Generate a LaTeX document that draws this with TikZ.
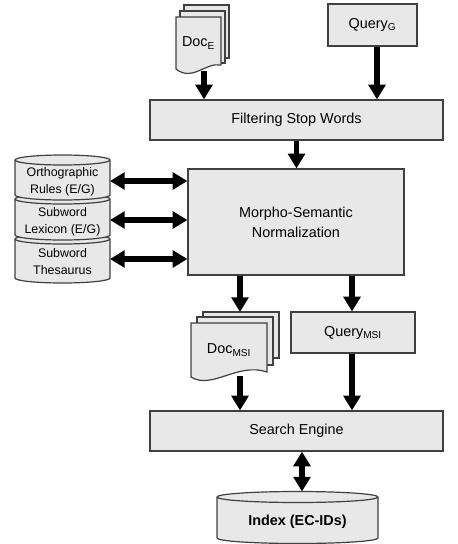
\documentclass[tikz,border=0pt]{standalone}
\usepackage{fontspec}
\setmainfont{Liberation Sans}
\usetikzlibrary{arrows.meta}
\begin{document}
\begin{tikzpicture}[x=0.75pt,y=-0.75pt,
  box/.style={draw=black!75, fill=black!9, line width=0.9pt, inner sep=0pt,
    font=\fontsize{10.8}{15}\selectfont, align=center},
  shp/.style={draw=black!75, fill=black!9, line width=0.9pt},
  lbl/.style={inner sep=0pt, font=\fontsize{10.8}{15}\selectfont, align=center},
  dblbl/.style={inner sep=0pt, font=\fontsize{9.3}{12.75}\selectfont, align=center,
    minimum width=71.25pt},
  arr/.style={line width=4pt, -{Triangle[width=12.5pt,length=11pt]}},
  darr/.style={line width=4pt, {Triangle[width=12.5pt,length=11pt]}-{Triangle[width=12.5pt,length=11pt]}}]
\useasboundingbox (0,0) rectangle (458,544);

% ---- Doc_E stack
\draw[shp] (184,5) rectangle (229,58);
\draw[shp] (180,11) rectangle (225,63);
\draw[shp] (176,17) -- (176,69) .. controls (192,82) and (206,62) .. (221,65) -- (221,17) -- cycle;
\node[lbl] (docE) at (198.5,43) {Doc\textsubscript{E}};
\coordinate (docEout) at (204,71);

% ---- Query_G
\node[box, minimum width=66.75pt, minimum height=31.5pt] (queryG) at (372.5,25) {Query\textsubscript{G}};

% ---- Filtering
\node[box, minimum width=219.75pt, minimum height=30pt] (filter) at (296.5,120) {Filtering Stop Words};

% ---- Morpho
\node[box, minimum width=162pt, minimum height=79.5pt] (morpho) at (296,222) {Morpho-Semantic\\Normalization};

% ---- database stack (drawn bottom to top)
\draw[shp] (15,239) -- (15,278) arc[start angle=180,end angle=0,x radius=47.5,y radius=5]
  -- (110,239) arc[start angle=0,end angle=-180,x radius=47.5,y radius=5] -- cycle;
\draw[draw=black!75, line width=0.9pt] (15,239) arc[start angle=180,end angle=0,x radius=47.5,y radius=5];
\draw[shp] (15,199) -- (15,235) arc[start angle=180,end angle=0,x radius=47.5,y radius=5]
  -- (110,199) arc[start angle=0,end angle=-180,x radius=47.5,y radius=5] -- cycle;
\draw[draw=black!75, line width=0.9pt] (15,199) arc[start angle=180,end angle=0,x radius=47.5,y radius=5];
\draw[shp] (15,160) -- (15,195) arc[start angle=180,end angle=0,x radius=47.5,y radius=5]
  -- (110,160) arc[start angle=0,end angle=-180,x radius=47.5,y radius=5] -- cycle;
\draw[draw=black!75, line width=0.9pt] (15,160) arc[start angle=180,end angle=0,x radius=47.5,y radius=5];
\node[dblbl] (ortho) at (62.5,182) {Orthographic\\Rules (E/G)};
\node[dblbl] (lexicon) at (62.5,222) {Subword\\Lexicon (E/G)};
\node[dblbl] (thes) at (62.5,262) {Subword\\Thesaurus};
\coordinate (o1) at (110,181);
\coordinate (o2) at (110,220);
\coordinate (o3) at (110,259);

% ---- Doc_MSI stack
\draw[shp] (203,312) rectangle (279,358);
\draw[shp] (197,317) rectangle (273,365);
\draw[shp] (191,323) -- (191,377) .. controls (212,390) and (238,362) .. (267,372) -- (267,323) -- cycle;
\node[lbl] (docM) at (229,350) {Doc\textsubscript{MSI}};
\coordinate (docMin) at (240,312);
\coordinate (docMout) at (240,376);

% ---- Query_MSI
\node[box, minimum width=93pt, minimum height=30.75pt] (queryM) at (353,332.5) {Query\textsubscript{MSI}};

% ---- Search Engine
\node[box, minimum width=219.75pt, minimum height=30pt] (search) at (296.5,431) {Search Engine};

% ---- Index cylinder
\draw[shp] (217,497) -- (217,538) arc[start angle=180,end angle=0,x radius=80.5,y radius=5.5]
  -- (378,497) arc[start angle=0,end angle=-180,x radius=80.5,y radius=5.5] -- cycle;
\draw[draw=black!75, line width=0.9pt] (217,497) arc[start angle=180,end angle=0,x radius=80.5,y radius=5.5];
\node[lbl, font=\fontsize{10.8}{15}\selectfont\bfseries] (index) at (297.5,522) {Index (EC-IDs)};
\coordinate (indexTop) at (302,491.5);

% ---- connectors
\coordinate (qg) at ([xshift=3.375pt]queryG.south);
\draw[arr] (docEout) -- (docEout |- filter.north);
\draw[arr] (qg) -- (qg |- filter.north);
\draw[arr] (filter.south) -- (filter.south |- morpho.north);
\draw[darr] (o1) -- (o1 -| morpho.west);
\draw[darr] (o2) -- (o2 -| morpho.west);
\draw[darr] (o3) -- (o3 -| morpho.west);
\draw[arr] (docMin |- morpho.south) -- (docMin);
\coordinate (qm) at (352,0);
\draw[arr] (qm |- morpho.south) -- (qm |- queryM.north);
\draw[arr] (docMout) -- (docMout |- search.north);
\draw[arr] (qm |- queryM.south) -- (qm |- search.north);
\draw[darr] (indexTop |- search.south) -- (indexTop);
\end{tikzpicture}
\end{document}
